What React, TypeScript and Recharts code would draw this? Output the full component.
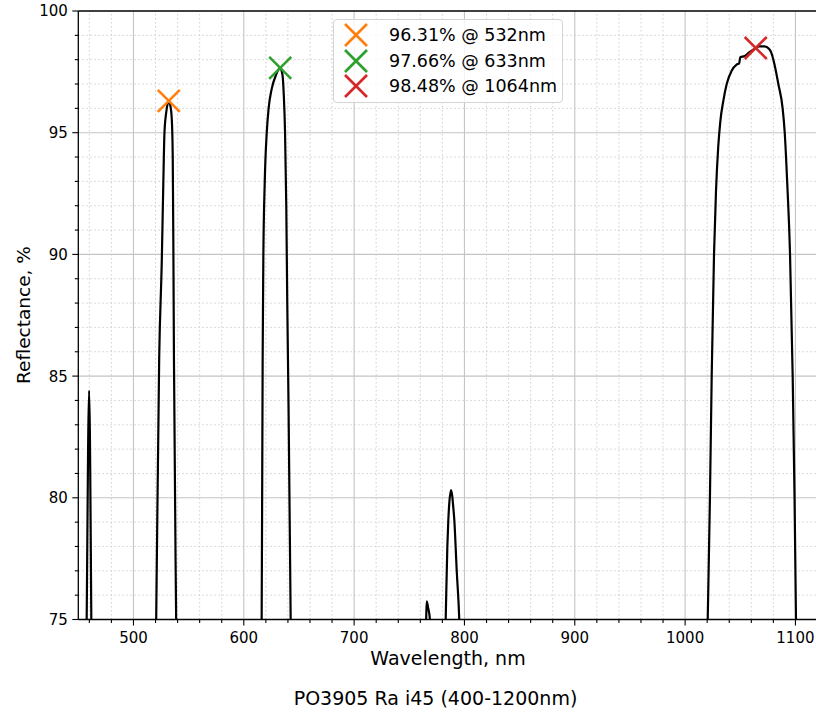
import { ComposedChart, Line, Scatter, XAxis, YAxis, ReferenceLine, Legend } from 'recharts';

// measured spectrum, nm -> % (values under 75 fall outside the view)
const WAVELENGTH = [
  450, 456, 457.6, 459.8, 461.8, 463, 490,
  518, 520.6, 523.3, 525.7, 527, 528.1, 529.6, 531, 532, 533.5, 534.8, 535.6, 536.2, 536.7, 538.7, 540.5, 580,
  613.5, 616.2, 617.1, 617.7, 619, 620.8, 622.5, 625.3, 629, 633, 635, 636.2, 637.4, 638.5, 639.4, 640.5, 642.5, 644.5, 700,
  763.5, 765.3, 765.8, 767, 768.7, 770, 776,
  781, 783, 784.5, 785.4, 786.3, 787.8, 789, 789.6, 790.8, 793, 795.3, 797.5, 900,
  1017.5, 1020.5, 1022.5, 1024.1, 1026.2, 1028, 1030, 1032, 1034.6, 1037.7, 1042.2, 1046.7, 1049, 1050, 1054, 1058, 1062, 1064,
  1067, 1072, 1076, 1078, 1080, 1082, 1084.5, 1088.4, 1090.3, 1092.5, 1095.1, 1097.5, 1099.2, 1100.5, 1103, 1120,
];
const REFLECTANCE = [
  62, 66, 75, 84.4, 75, 67, 55,
  66, 75, 85.7, 89.8, 92.8, 95, 95.8, 96.2, 96.31, 96.1, 95.5, 94, 90, 85.7, 75, 67, 55,
  67, 75, 85.7, 89.8, 93, 95, 96, 96.8, 97.35, 97.66, 97.4, 96.6, 95, 92, 88, 84, 75, 67, 55,
  73, 75, 75.75, 75.5, 75, 73.5, 70,
  71, 75, 78, 79.1, 79.8, 80.32, 80.05, 79.75, 79.1, 77, 75, 71, 55,
  67, 75, 80, 85, 90, 92.6, 94.4, 95.5, 96.3, 97.0, 97.55, 97.8, 97.85, 98.1, 98.15, 98.3, 98.42, 98.48,
  98.55, 98.55, 98.45, 98.3, 98.0, 97.6, 97.0, 96.0, 95.0, 93, 90, 85, 80, 75, 67, 55,
];

const MARK_WL = [532, 633, 1064];
const MARK_R = [96.31, 97.66, 98.48];
const MARK_COLORS = ['#ff7f0e', '#2ca02c', '#d62728'];

const X_MAJOR = [500, 600, 700, 800, 900, 1000, 1100];
const X_MINOR = [460, 480, 520, 540, 560, 580, 620, 640, 660, 680, 720, 740, 760, 780, 820, 840, 860, 880, 920, 940, 960, 980, 1020, 1040, 1060, 1080, 1120];
const Y_MAJOR = [75, 80, 85, 90, 95, 100];
const Y_MINOR = [76, 77, 78, 79, 81, 82, 83, 84, 86, 87, 88, 89, 91, 92, 93, 94, 96, 97, 98, 99];

const curve = WAVELENGTH.map((wl, i) => ({ wl, r: REFLECTANCE[i] }));
const xTicks = [...X_MAJOR, ...X_MINOR].sort((a, b) => a - b);
const yTicks = [...Y_MAJOR, ...Y_MINOR].sort((a, b) => a - b);

const FONT = '"DejaVu Sans", sans-serif';

function XMark({ cx, cy, color, size = 11 }: { cx: number; cy: number; color: string; size?: number }) {
  return (
    <g stroke={color} strokeWidth={2.6}>
      <line x1={cx - size} y1={cy - size} x2={cx + size} y2={cy + size} />
      <line x1={cx - size} y1={cy + size} x2={cx + size} y2={cy - size} />
    </g>
  );
}

function XTick(props: any) {
  const { x, y, payload } = props;
  const major = X_MAJOR.includes(payload.value);
  return (
    <g>
      <line x1={x} x2={x} y1={y} y2={y + (major ? 6 : 3.5)} stroke="#000" strokeWidth={1.1} />
      {major && (
        <text x={x} y={y + 23} textAnchor="middle" fontSize={15} fontFamily={FONT} fill="#000">
          {payload.value}
        </text>
      )}
    </g>
  );
}

function YTick(props: any) {
  const { x, y, payload } = props;
  const major = Y_MAJOR.includes(payload.value);
  return (
    <g>
      <line x1={x - (major ? 6 : 3.5)} x2={x} y1={y} y2={y} stroke="#000" strokeWidth={1.1} />
      {major && (
        <text x={x - 10.5} y={y + 5.4} textAnchor="end" fontSize={15} fontFamily={FONT} fill="#000">
          {payload.value}
        </text>
      )}
    </g>
  );
}

function LegendBox() {
  return (
    <div
      style={{
        position: 'relative',
        width: 230,
        height: 84,
        boxSizing: 'border-box',
        border: '1px solid #d4d4d4',
        borderRadius: 4,
        background: 'rgba(255,255,255,0.8)',
        fontFamily: FONT,
        fontSize: 17.5,
        color: '#000',
      }}
    >
      {MARK_WL.map((wl, i) => (
        <div key={wl} style={{ position: 'absolute', left: 0, top: 15 + 25.5 * i - 13, height: 26, width: 228 }}>
          <svg width={46} height={26} style={{ position: 'absolute', left: 0, top: 0 }}>
            <XMark cx={22} cy={13} color={MARK_COLORS[i]} />
          </svg>
          <span style={{ position: 'absolute', left: 55, top: 0, lineHeight: '26px', whiteSpace: 'nowrap' }}>
            {`${MARK_R[i].toFixed(2)}% @ ${wl}nm`}
          </span>
        </div>
      ))}
    </div>
  );
}

export default function App() {
  return (
    <div style={{ position: 'absolute', left: 0, top: 0, width: 816, height: 712, overflow: 'hidden', background: '#fff', fontFamily: FONT }}>
      <ComposedChart width={830} height={712} data={curve} margin={{ top: 11, right: 12.5, bottom: 0, left: 0 }}>
        {X_MINOR.map((v) => (
          <ReferenceLine key={`xm${v}`} x={v} stroke="#cfcfcf" strokeWidth={1} strokeDasharray="1.5 2.5" />
        ))}
        {Y_MINOR.map((v) => (
          <ReferenceLine key={`ym${v}`} y={v} stroke="#cfcfcf" strokeWidth={1} strokeDasharray="1.5 2.5" />
        ))}
        {X_MAJOR.map((v) => (
          <ReferenceLine key={`xM${v}`} x={v} stroke="#c4c4c4" strokeWidth={1.1} />
        ))}
        {Y_MAJOR.filter((v) => v > 75 && v < 100).map((v) => (
          <ReferenceLine key={`yM${v}`} y={v} stroke="#c4c4c4" strokeWidth={1.1} />
        ))}
        <ReferenceLine y={100} stroke="#000" strokeWidth={1.3} />
        <XAxis
          dataKey="wl"
          type="number"
          domain={[450, 1120]}
          allowDataOverflow
          ticks={xTicks}
          interval={0}
          tickSize={0}
          tickMargin={0}
          tickLine={false}
          tick={XTick}
          height={92.5}
          axisLine={{ stroke: '#000', strokeWidth: 1.3 }}
          label={(p: any) => (
            <text x={448} y={665} textAnchor="middle" fontSize={19} fontFamily={FONT} fill="#000">
              Wavelength, nm
            </text>
          )}
        />
        <YAxis
          type="number"
          domain={[75, 100]}
          allowDataOverflow
          ticks={yTicks}
          interval={0}
          tickSize={0}
          tickMargin={0}
          tickLine={false}
          tick={YTick}
          width={78.3}
          axisLine={{ stroke: '#000', strokeWidth: 1.3 }}
          label={(p: any) => (
            <text transform="translate(30, 315) rotate(-90)" textAnchor="middle" fontSize={18.5} fontFamily={FONT} fill="#000">
              Reflectance, %
            </text>
          )}
        />
        <Line dataKey="r" type="monotone" stroke="#000" strokeWidth={2.2} dot={false} activeDot={false} isAnimationActive={false} legendType="none" />
        {MARK_WL.map((wl, i) => (
          <Scatter
            key={wl}
            data={[{ wl, r: MARK_R[i] }]}
            dataKey="r"
            isAnimationActive={false}
            shape={(p: any) => <XMark cx={p.cx} cy={p.cy} color={MARK_COLORS[i]} />}
          />
        ))}
        <Legend
          layout="vertical"
          verticalAlign="middle"
          align="center"
          wrapperStyle={{ left: 333, top: 19, width: 230, height: 84 }}
          content={() => <LegendBox />}
        />
      </ComposedChart>
      <div
        style={{
          position: 'absolute',
          left: 0,
          width: 871,
          top: 686,
          textAlign: 'center',
          fontSize: 19,
          lineHeight: '24px',
          color: '#000',
          whiteSpace: 'nowrap',
        }}
      >
        PO3905 Ra i45 (400-1200nm)
      </div>
    </div>
  );
}
